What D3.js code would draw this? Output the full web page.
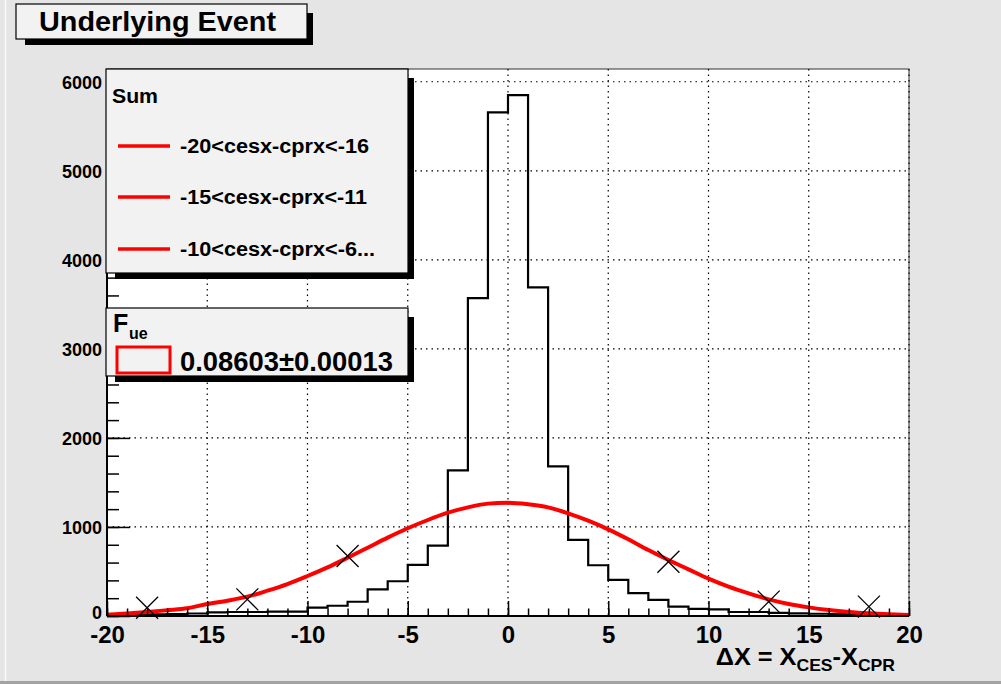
<!DOCTYPE html>
<html>
<head>
<meta charset="utf-8">
<script src="https://cdn.jsdelivr.net/npm/d3@7"></script>
<style>
  body { margin: 0; background: #e5e5e5; }
  svg { display: block; font-family: "Liberation Sans", Arial, sans-serif; }
</style>
</head>
<body>
<div id="chart"></div>
<script>
// histogram: 1-unit bins from -20 to 20
var binLow = d3.range(-20, 20);
var counts = [10, 12, 18, 22, 28, 40, 45, 45, 50, 50,
              95, 115, 160, 300, 390, 575, 790, 1635, 3570, 5656,
              5850, 3690, 1680, 855, 570, 405, 256, 181, 106, 80,
              75, 45, 45, 35, 30, 25, 20, 15, 12, 10];

// red fit curve at each unit
var fitX = d3.range(-20, 21);
var fitY = [15, 28, 45, 65, 86, 135, 172, 217, 284, 359,
            449, 546, 655, 767, 880, 985, 1078, 1160, 1220, 1262,
            1272, 1255, 1220, 1153, 1070, 973, 861, 741, 629, 524,
            419, 329, 254, 187, 135, 97, 67, 45, 30, 19, 11];

// x markers
var crossX = [-18, -13, -8, 8, 13, 18];
var crossY = [93, 187, 674, 610, 161, 105];

var xMajor = [-20, -15, -10, -5, 0, 5, 10, 15, 20];
var yMajor = [0, 1000, 2000, 3000, 4000, 5000, 6000];
var legendLabels = ["-20<cesx-cprx<-16", "-15<cesx-cprx<-11", "-10<cesx-cprx<-6..."];
var legendWidths = [189, 187, 195];

function init() {
    var w = 1001, h = 684;
    var left = 107, right = 909, top = 69, bottom = 616;

    var svg = d3.select("#chart").append("svg")
        .attr("width", w)
        .attr("height", h);

    //canvas background and border
    svg.append("rect").attr("width", w).attr("height", h).attr("fill", "#e5e5e5");
    svg.append("rect").attr("x", 0).attr("y", 681).attr("width", w).attr("height", 3).attr("fill", "#a3a3a3");
    svg.append("line").attr("x1", 5.5).attr("x2", 5.5).attr("y1", 0).attr("y2", 681)
        .attr("stroke", "#fafafa").attr("stroke-width", 1.5);

    var x = d3.scaleLinear().domain([-20, 20]).range([left, right]);
    var y = d3.scaleLinear().domain([0, 6143]).range([bottom, top]);

    //frame
    svg.append("rect")
        .attr("x", left).attr("y", top)
        .attr("width", right - left).attr("height", bottom - top)
        .attr("fill", "#fff").attr("stroke", "#333").attr("stroke-width", 1);

    //dotted grid
    var grid = svg.append("g").attr("stroke", "#000").attr("stroke-width", 1.2)
        .attr("stroke-dasharray", "1.5,4");
    grid.selectAll(".gx").data(xMajor.slice(1)).enter().append("line")
        .attr("x1", d => x(d)).attr("x2", d => x(d))
        .attr("y1", top).attr("y2", bottom);
    grid.selectAll(".gy").data(yMajor.slice(1)).enter().append("line")
        .attr("x1", left).attr("x2", right)
        .attr("y1", d => y(d)).attr("y2", d => y(d));

    //histogram outline
    var pts = [];
    binLow.forEach((b, i) => {
        pts.push([x(b), y(counts[i])]);
        pts.push([x(b + 1), y(counts[i])]);
    });
    svg.append("path")
        .attr("d", d3.line()(pts))
        .attr("fill", "none").attr("stroke", "#000").attr("stroke-width", 2.2);

    //fit curve
    svg.append("path")
        .datum(fitX.map((d, i) => [d, fitY[i]]))
        .attr("d", d3.line().x(d => x(d[0])).y(d => y(d[1])).curve(d3.curveMonotoneX))
        .attr("fill", "none").attr("stroke", "#ff0000").attr("stroke-width", 4);

    //markers
    svg.selectAll(".cross").data(crossX).enter().append("path")
        .attr("transform", (d, i) => `translate(${x(d)},${y(crossY[i])})`)
        .attr("d", "M-11,-11L11,11M-11,11L11,-11")
        .attr("stroke", "#000").attr("stroke-width", 1.3);

    //axes
    var xAxis = svg.append("g").attr("transform", `translate(0,${bottom})`);
    xAxis.call(d3.axisBottom(x).ticks(40).tickSize(-7.5).tickFormat(""));
    xAxis.select(".domain").remove();
    var xAxisMajor = svg.append("g").attr("transform", `translate(0,${bottom})`)
        .call(d3.axisBottom(x).tickValues(xMajor).tickSize(-15).tickPadding(10).tickFormat(d => String(d)));
    xAxisMajor.select(".domain").remove();
    xAxisMajor.attr("font-size", 24).attr("font-weight", "bold").attr("font-family", null);

    var yAxis = svg.append("g").attr("transform", `translate(${left},0)`);
    yAxis.call(d3.axisLeft(y).tickValues(d3.range(0, 6001, 200)).tickSize(-12).tickFormat(""));
    yAxis.select(".domain").remove();
    var yAxisMajor = svg.append("g").attr("transform", `translate(${left},0)`)
        .call(d3.axisLeft(y).tickValues(yMajor).tickSize(-23).tickPadding(5).tickFormat(d => String(d)));
    yAxisMajor.select(".domain").remove();
    yAxisMajor.attr("font-size", 18).attr("font-weight", "bold").attr("font-family", null);
    yAxisMajor.selectAll("text").attr("dy", d => d === 0 ? "0.12em" : "0.38em");
    svg.selectAll(".tick line").attr("stroke-width", 1.5);

    svg.append("line").attr("x1", left).attr("x2", right).attr("y1", bottom).attr("y2", bottom)
        .attr("stroke", "#000").attr("stroke-width", 2);
    svg.append("line").attr("x1", left).attr("x2", left).attr("y1", top).attr("y2", bottom)
        .attr("stroke", "#000").attr("stroke-width", 2);

    //x axis title
    var xt = svg.append("text")
        .attr("transform", "translate(895,665) scale(1.1,1)")
        .attr("text-anchor", "end").attr("font-weight", "bold").attr("font-size", 23);
    xt.append("tspan").text("\u0394X = X");
    xt.append("tspan").attr("font-size", 16).attr("dy", 6).text("CES");
    xt.append("tspan").attr("dy", -6).text("-X");
    xt.append("tspan").attr("font-size", 16).attr("dy", 6).text("CPR");

    //boxes with shadow
    function box(x0, y0, x1, y1) {
        svg.append("rect").attr("x", x0 + 9).attr("y", y0 + 9)
            .attr("width", x1 - x0 - 3).attr("height", y1 - y0 - 3).attr("fill", "#000");
        svg.append("rect").attr("x", x0).attr("y", y0)
            .attr("width", x1 - x0).attr("height", y1 - y0)
            .attr("fill", "#f2f2f2").attr("stroke", "#000").attr("stroke-width", 1.2);
    }

    //title
    box(16, 4, 307, 39);
    svg.append("text").attr("x", 39).attr("y", 31)
        .attr("font-size", 27).attr("font-weight", "bold")
        .attr("textLength", 237).attr("lengthAdjust", "spacingAndGlyphs")
        .text("Underlying Event");

    //legend
    box(106, 69, 408, 273);
    svg.append("text").attr("x", 112).attr("y", 103)
        .attr("font-size", 20).attr("font-weight", "bold")
        .attr("textLength", 46).attr("lengthAdjust", "spacingAndGlyphs")
        .text("Sum");
    var rowY = [146, 197, 249];
    legendLabels.forEach((lab, i) => {
        svg.append("line").attr("x1", 118).attr("x2", 170)
            .attr("y1", rowY[i]).attr("y2", rowY[i])
            .attr("stroke", "#ff0000").attr("stroke-width", 3.5);
        svg.append("text").attr("x", 180).attr("y", rowY[i] + 7)
            .attr("font-size", 20).attr("font-weight", "bold")
            .attr("textLength", legendWidths[i]).attr("lengthAdjust", "spacingAndGlyphs")
            .text(lab);
    });

    //F_ue box
    box(106, 308, 408, 376);
    svg.append("text").attr("x", 113).attr("y", 332)
        .attr("font-size", 25).attr("font-weight", "bold").text("F");
    svg.append("text").attr("x", 129).attr("y", 339)
        .attr("font-size", 16).attr("font-weight", "bold").text("ue");
    svg.append("rect").attr("x", 117).attr("y", 347).attr("width", 53).attr("height", 26)
        .attr("fill", "none").attr("stroke", "#ff0000").attr("stroke-width", 3);
    svg.append("text").attr("x", 180).attr("y", 371)
        .attr("font-size", 28).attr("font-weight", "bold")
        .attr("textLength", 213).attr("lengthAdjust", "spacingAndGlyphs")
        .text("0.08603\u00b10.00013");
}

window.onload = init;
</script>
</body>
</html>
